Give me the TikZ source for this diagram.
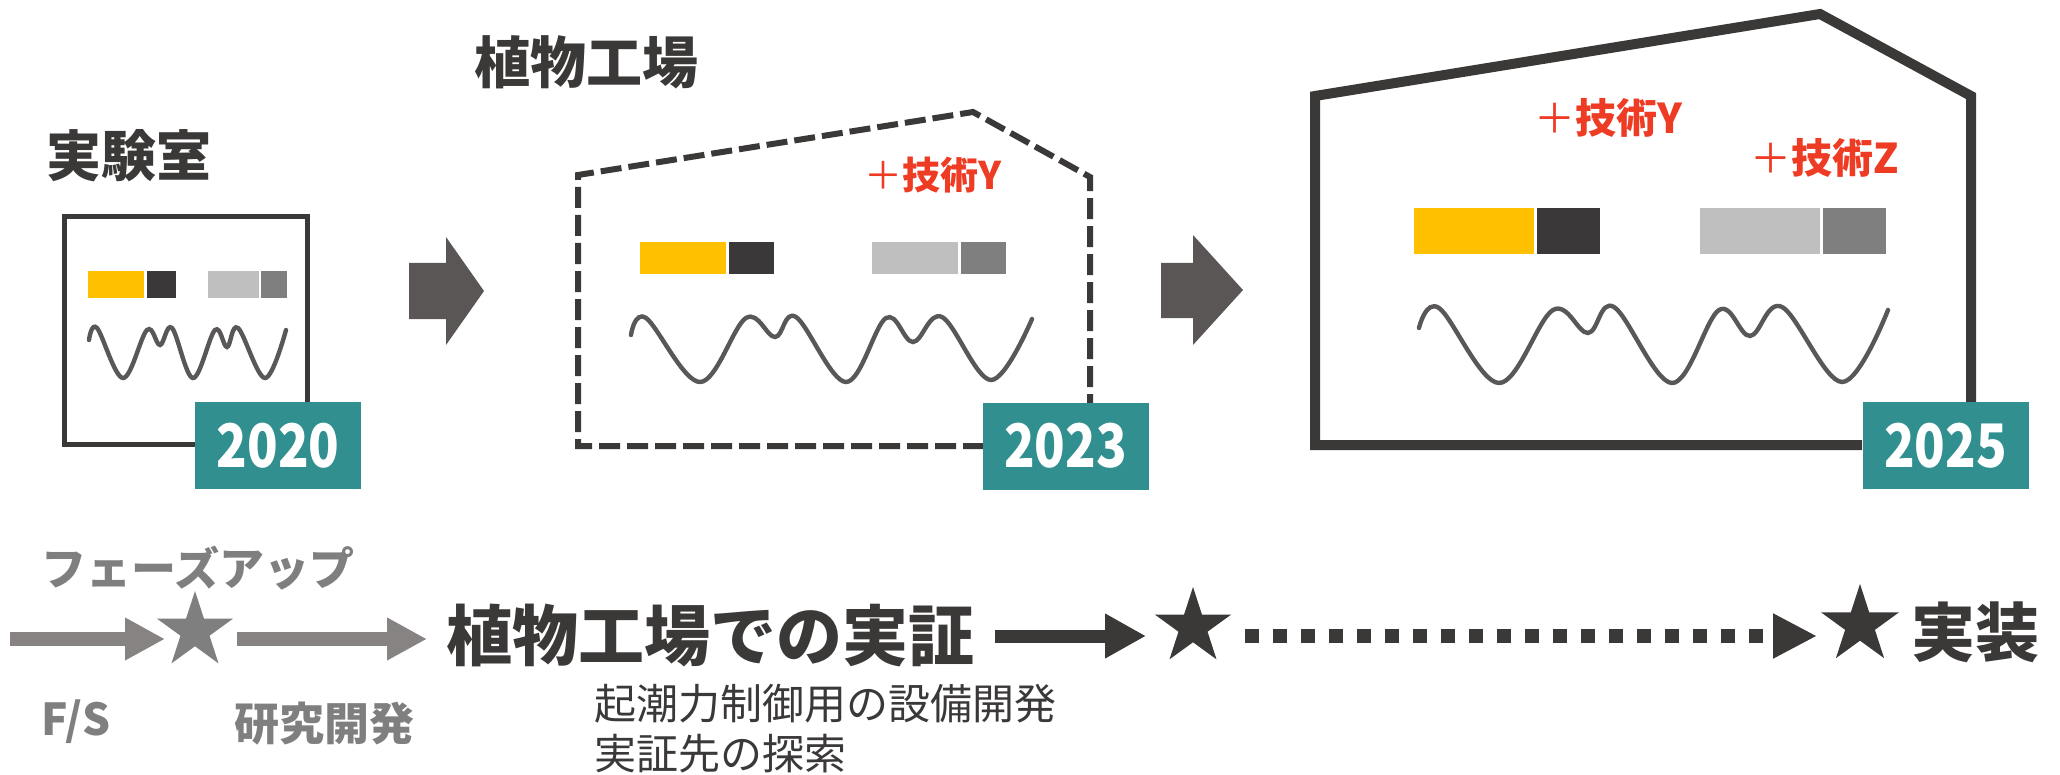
\documentclass[tikz,border=0pt]{standalone}
\usepackage{fontspec}
\usepackage{graphicx}
\setmainfont{Noto Sans CJK JP}
\usetikzlibrary{shapes.geometric,arrows.meta}
\definecolor{ink}{HTML}{3B3838}
\definecolor{wavec}{HTML}{595757}
\definecolor{blkarr}{HTML}{5A5655}
\definecolor{tealc}{HTML}{31908F}
\definecolor{redc}{HTML}{EE3B24}
\definecolor{yel}{HTML}{FFC000}
\definecolor{dk}{HTML}{3A3838}
\definecolor{lg}{HTML}{BFBFBF}
\definecolor{mg}{HTML}{7F7F7F}
\definecolor{gtxt}{HTML}{7F7F7F}
\definecolor{garr}{HTML}{878383}
\newcommand{\fsz}[1]{\fontsize{#1}{#1}\selectfont}
\newcommand{\yeartxt}[1]{\scalebox{0.84}[1]{#1}}
\tikzset{
  txt/.style={inner sep=0pt, outer sep=0pt},
  yearbox/.style={fill=tealc, draw=none, inner sep=0pt, minimum width=83pt, minimum height=43.5pt, text=white, font=\fsz{30pt}\bfseries},
  wave/.style={draw=wavec, line width=2.2pt, line cap=round},
  starnode/.style={star, star points=5, star point ratio=2.618, inner sep=0pt, draw=none},
  grayarrow/.style={draw=garr, line width=7pt, -{Triangle[length=20pt,width=20pt]}},
  darkarrow/.style={draw=ink, line width=6.5pt, -{Triangle[length=20.5pt,width=21pt]}},
  dotarrow/.style={draw=ink, line width=7pt, dash pattern=on 7pt off 7pt, -{Triangle[length=22pt,width=21pt]}},
  redtxt/.style={txt, text=redc},
}
\begin{document}
\begin{tikzpicture}[x=0.5pt,y=-0.5pt]
\useasboundingbox (0,0) rectangle (2060,775);

% ---------------- titles
\node[txt, text=ink, font=\fsz{27.5pt}\bfseries] (tlab) at (129,156) {実験室};
\node[txt, text=ink, font=\fsz{28pt}\bfseries] (tplant) at (586,62) {植物工場};

% ---------------- lab
\draw[draw=ink, line width=2.5pt] (64.5,216.5) rectangle (307.5,444.5);
\fill[yel] (88,271) rectangle (144,298);
\fill[dk] (147,271) rectangle (176,298);
\fill[lg] (208,271) rectangle (259,298);
\fill[mg] (261,271) rectangle (287,298);
\draw[wave] plot[smooth, tension=0.6] coordinates {(89,340) (97,328) (123,378) (147,330) (160,345) (172,328) (193,378) (215,330) (227,347) (238,328) (265,378) (286,330)};
\node[yearbox] (y2020) at (278,445.5) {\yeartxt{2020}};

% ---------------- block arrow 1
\fill[blkarr] (409,263) -- (446,263) -- (446,237) -- (484,291) -- (446,345) -- (446,319) -- (409,319) -- cycle;

% ---------------- plant factory (dashed)
\draw[draw=ink, line width=3pt, dash pattern=on 10.5pt off 3.5pt, line join=miter]
  (984,446) -- (578,446) -- (578,175) -- (973,112) -- (1090,177) -- (1090,403);
\node[redtxt, anchor=west] (p23) at (864,175) {\fsz{19pt}＋\bfseries 技術Y};
\fill[yel] (640,242) rectangle (726,274);
\fill[dk] (728.5,242) rectangle (774,274);
\fill[lg] (872,242) rectangle (958,274);
\fill[mg] (961,242) rectangle (1006,274);
\draw[wave] plot[smooth, tension=0.6] coordinates {(631,335) (646,318) (700,382) (746,318) (775,337) (796,317) (846,382) (886,318) (913,342) (942,317) (991,380) (1032,319)};
\node[yearbox] (y2023) at (1065.5,446) {\yeartxt{2023}};

% ---------------- block arrow 2
\fill[blkarr] (1161,263) -- (1193,263) -- (1193,235) -- (1243,290) -- (1193,345) -- (1193,318) -- (1161,318) -- cycle;

% ---------------- implementation building
\draw[draw=ink, line width=5pt, line join=miter]
  (1862,445) -- (1315,445) -- (1315,96) -- (1820,14) -- (1971,96) -- (1971,402);
\node[redtxt, anchor=west] (p25y) at (1534,118) {\fsz{20.5pt}＋\bfseries 技術Y};
\node[redtxt, anchor=west] (p25z) at (1750,158) {\fsz{20.5pt}＋\bfseries 技術Z};
\fill[yel] (1414,208) rectangle (1534,254);
\fill[dk] (1537,208) rectangle (1600,254);
\fill[lg] (1700,208) rectangle (1820,254);
\fill[mg] (1823,208) rectangle (1886,254);
\draw[wave] plot[smooth, tension=0.6] coordinates {(1419,328) (1439,308) (1499,383) (1553,310) (1588,333) (1614,307) (1672,383) (1719,310) (1750,336) (1782,307) (1842,382) (1888,310)};
\node[yearbox] (y2025) at (1945.5,445.5) {\yeartxt{2025}};

% ---------------- timeline
\node[txt, text=gtxt, font=\fsz{22.5pt}\bfseries] (phase) at (198,568) {フェーズアップ};
\node[starnode, fill=mg, minimum size=40pt] (s1) at (195,631) {};
\node[starnode, fill=ink, minimum size=40pt] (s2) at (1193,627) {};
\node[starnode, fill=ink, minimum size=41pt] (s3) at (1860,625) {};

\coordinate (a0) at (10,639);
\coordinate (a1) at (165,639);
\coordinate (b0) at (237,639);
\coordinate (b1) at (427,639);
\draw[grayarrow] (a0) -- (a1);
\draw[grayarrow] (b0) -- (b1);

\node[txt, text=ink, font=\fsz{33pt}\bfseries] (demo) at (710,636) {植物工場での実証};
\coordinate (c0) at (995,636);
\coordinate (c1) at (1146,636);
\draw[darkarrow] (c0) -- (c1);
\coordinate (d0) at (1245,636);
\coordinate (d1) at (1817,636);
\draw[dotarrow] (d0) -- (d1);
\node[txt, text=ink, font=\fsz{32pt}\bfseries] (impl) at (1975,632) {実装};

\node[txt, text=gtxt, font=\fsz{22pt}\bfseries] (fs) at (76,722) {F/S};
\node[txt, text=gtxt, font=\fsz{22.5pt}\bfseries] (rd) at (324,724) {研究開発};
\node[txt, text=ink, font=\fsz{21pt}, anchor=west] (sub1) at (594,704) {起潮力制御用の設備開発};
\node[txt, text=ink, font=\fsz{21pt}, anchor=west] (sub2) at (594,754) {実証先の探索};
\end{tikzpicture}
\end{document}
